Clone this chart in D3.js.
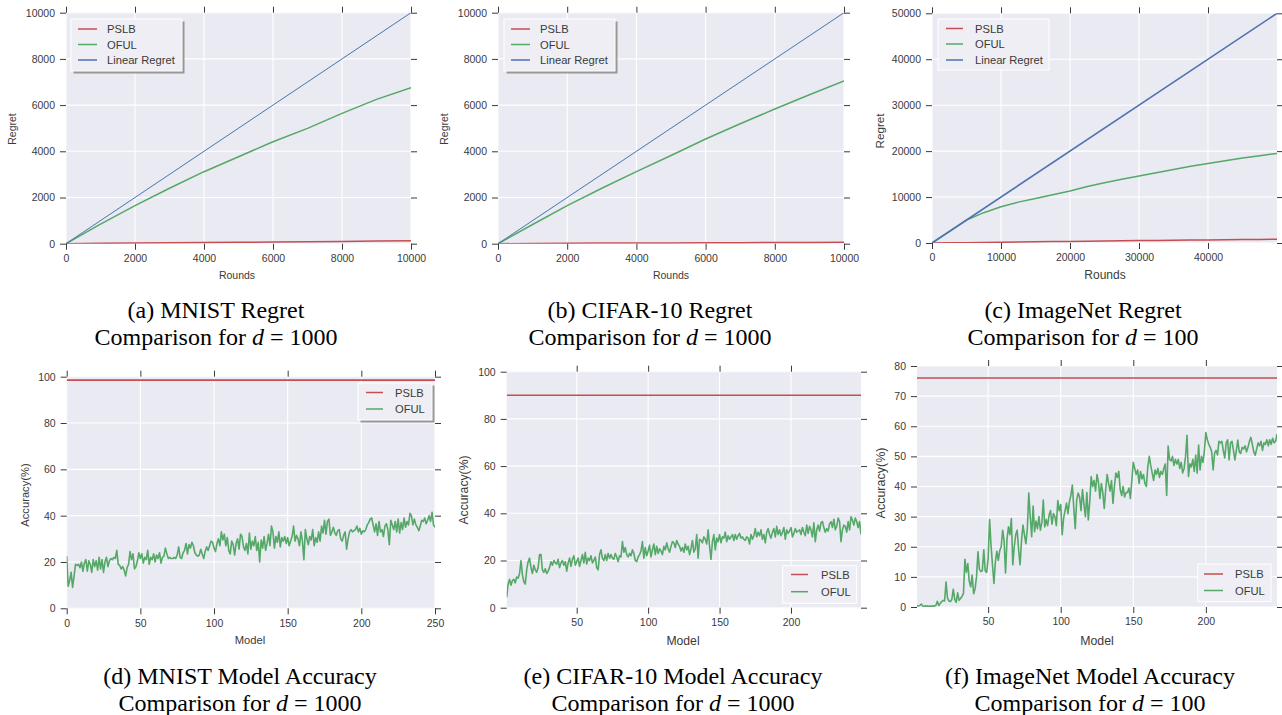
<!DOCTYPE html>
<html>
<head>
<meta charset="utf-8">
<script src="https://cdn.jsdelivr.net/npm/d3@7"></script>
<style>
  body { margin: 0; background: #ffffff; }
  svg { display: block; }
</style>
</head>
<body>
<svg id="fig" width="1282" height="715"></svg>
<script>
// ---- donnees ----

// regret, panneaux (a) et (b)
const roundsAB = [0, 1000, 2000, 3000, 4000, 5000, 6000, 7000, 8000, 9000, 10000];
const pslbRegretA = [0, 15, 30, 40, 50, 60, 70, 85, 100, 115, 130];
const ofulRegretA = [0, 850, 1645, 2400, 3117, 3766, 4416, 4993, 5642, 6248, 6753];
const pslbRegretB = [0, 10, 20, 25, 30, 35, 40, 45, 50, 55, 60];
const ofulRegretB = [0, 830, 1645, 2400, 3117, 3820, 4531, 5190, 5830, 6450, 7042];
const linearRoundsAB = [0, 10000];
const linearRegretAB = [0, 10000];

// regret, panneau (c)
const roundsC = [0, 2500, 5000, 7500, 10000, 12500, 15000, 17500, 20000, 22500, 25000,
  27500, 30000, 32500, 35000, 37500, 40000, 42500, 45000, 47500, 50000];
const pslbRegretC = [0, 40, 80, 120, 160, 205, 250, 300, 350, 390, 430,
  475, 520, 560, 600, 640, 680, 715, 750, 785, 820];
const ofulRegretC = [0, 2500, 5000, 6600, 7900, 8900, 9700, 10500, 11300, 12300, 13100,
  13900, 14600, 15300, 16000, 16700, 17300, 17900, 18500, 19000, 19500];
const linearRoundsC = [0, 50000];
const linearRegretC = [0, 50000];

// precision, panneau (d) : modeles 0..250
const pslbAccD = [98.5, 98.5];
const ofulAccD = [
  22.5, 9.5, 12, 15.5, 9, 14, 19, 18.5, 19, 17.5,
  20, 16, 19.5, 21, 16, 20.5, 19, 15.5, 21, 18,
  20.5, 16.5, 22, 17, 21, 15.5, 20, 22, 18, 20.5,
  21.5, 21, 22, 21.5, 25, 19, 18.5, 17, 18, 16.5,
  14, 17.5, 19, 24.5, 21, 23.5, 17, 18, 20.5, 24,
  21.5, 23.5, 19.5, 22, 21, 25, 19, 22, 21, 23.5,
  20, 23, 21.5, 24, 19.5, 22, 22.5, 26, 23.5, 21.5,
  22, 21.5, 21.5, 22, 21.5, 23, 26.5, 22, 21.5, 24,
  25, 28, 23.5, 27.5, 26, 28.5, 27, 24, 23, 22.5,
  23, 25.5, 23.5, 21.5, 24.5, 26.5, 25, 27, 29, 28.5,
  26, 24.5, 28, 30, 27, 33, 29.5, 32, 27, 30.5,
  25, 23.5, 29, 27.5, 23, 28, 30, 25.5, 32, 31,
  26.5, 25, 28, 23.5, 32.5, 25.5, 29, 27, 31, 25,
  28.5, 20, 29.5, 26, 31, 25, 28, 32, 27, 35.5,
  33, 26, 31, 28.5, 33, 26.5, 30.5, 29, 31, 28,
  30.5, 27, 29, 31, 35.5, 29, 31.5, 30, 27, 33,
  29, 21, 34, 30, 27.5, 31, 29.5, 34, 27, 30.5,
  28.5, 33, 29, 35.5, 32.5, 38, 32, 37.5, 38.5, 31.5,
  33, 35, 32.5, 31.5, 33.5, 34, 30, 29, 31.5, 33,
  25.5, 30, 33, 34, 33, 33.5, 34, 35.5, 33, 34.5,
  32, 33.5, 33, 34, 36, 37, 38.5, 39, 36, 33,
  36.5, 31.5, 37.5, 33, 34, 31, 35.5, 36.5, 34, 27.5,
  38, 36, 34, 37.5, 33, 38.5, 32.5, 37, 34, 39,
  35, 37.5, 36, 41, 40, 36, 38.5, 36, 35, 33.5,
  35.5, 38, 37.5, 39, 36.5, 38, 40, 37.5, 41.5, 36, 35
];

// precision, panneau (e) : modeles 1..249
const pslbAccE = [90, 90];
const ofulAccE = [
  4.5, 10, 12, 9.5, 11.5, 12, 10.5, 13, 12.5, 14.5,
  20, 14, 11, 10, 16, 19.5, 21, 17, 14.5, 18,
  16, 15, 17, 22.5, 22.5, 16, 15, 16.5, 14.5, 15.5,
  17, 19.5, 18, 20, 19, 18.5, 20.5, 17, 19, 20,
  18, 19.5, 15.5, 19, 21, 17.5, 20.5, 22, 18, 19.5,
  21, 17.5, 20, 22.5, 19, 23.5, 18.5, 21, 20, 22,
  19, 20, 21.5, 17, 16, 22.5, 24.5, 21, 20, 22.5,
  20, 23, 21, 22.5, 21, 20.5, 23, 21.5, 19.5, 22,
  21.5, 28, 23.5, 25.5, 22.5, 21.5, 23, 22, 24.5, 23,
  20, 19.5, 21.5, 22.5, 24, 28, 21, 25.5, 22, 24,
  26.5, 21.5, 24.5, 27, 22.5, 26, 23, 25, 24, 22.5,
  26, 24.5, 27.5, 25, 23.5, 26, 28, 27.5, 25.5, 28.5,
  27, 26, 24, 25.5, 23.5, 27, 24.5, 26, 22.5, 25,
  28.5, 23.5, 25, 31, 21, 29, 28.5, 27.5, 30, 29,
  27, 33, 26, 20.5, 28, 31, 24.5, 29.5, 28, 31,
  27.5, 30, 29.5, 32, 28, 30.5, 29, 30, 31, 28.5,
  31, 29, 30.5, 31.5, 29.5, 30, 29, 28.5, 30, 29.5,
  27, 31, 29, 30.5, 33.5, 30, 32, 30.5, 33, 29,
  31, 27.5, 32, 33.5, 31, 29.5, 32, 33.5, 30, 34.5,
  31, 33, 30.5, 32, 34, 29, 33, 31.5, 32.5, 34,
  30, 31.5, 33.5, 32, 32.5, 33, 31, 34, 32, 30.5,
  35, 31.5, 34.5, 33, 30, 36, 28, 33, 35, 32.5,
  36, 36.5, 34, 32, 33.5, 32.5, 35.5, 36.5, 34, 37.5,
  33, 34.5, 38, 36.5, 28, 33, 35, 34.5, 32, 36.5,
  33, 38.5, 37, 35, 38, 36.5, 34, 36.5, 31
];

// precision, panneau (f) : modeles 1..249
const pslbAccF = [76, 76];
const ofulAccF = [
  0.3, 0.4, 0.5, 1, 0.3, 0.2, 0.4, 0.3, 0.2, 0.3,
  0.2, 0.4, 0.3, 0.5, 1.9, 0.5, 1.2, 1.8, 2.2, 2,
  8.3, 3, 2, 1.8, 2.5, 5.9, 2.5, 1.5, 4.7, 2.2,
  2.8, 3.5, 4.5, 15.8, 11.5, 14.4, 8.5, 6.7, 10.6, 4.4,
  6, 10, 18.3, 12.5, 11.8, 12, 19, 12, 11.5, 16,
  29, 20.5, 14, 7.8, 15, 18.5, 15.5, 18.7, 20, 25.5,
  22, 11.3, 22.5, 26.6, 24, 29.4, 14, 20, 24, 25.5,
  19, 14, 22, 27.2, 24, 21, 26, 37.8, 30, 23.3,
  33.5, 25, 28.5, 26, 30, 25.5, 28, 35.5, 26.6, 29,
  27, 30.5, 32, 27.5, 31, 30, 27, 35.3, 32, 34,
  24, 29.5, 32, 34.5, 31, 35, 37, 40.5, 33, 26,
  35.5, 37.8, 36.5, 32, 39, 34, 30, 38, 28.9, 35,
  43.3, 40, 42, 38.5, 44, 41.5, 36, 41, 38, 32.7,
  39, 44, 41, 38.5, 42, 34.4, 40, 44.5, 43, 45,
  39, 37, 40, 36.5, 38, 38, 39.5, 36, 42, 48,
  46, 44, 45.5, 41, 45, 42.5, 44, 41, 40, 46.5,
  50, 47, 44.5, 42, 45.5, 44, 46, 43, 45, 44,
  46, 47.5, 37, 53.4, 49, 48.5, 50, 47, 49, 47.5,
  49, 46, 48, 44.5, 46, 50, 57, 43.3, 47.5, 46.5,
  49, 45, 50.4, 44.4, 53.8, 45.5, 50, 48, 52, 57.9,
  55.5, 54, 53, 51.5, 45.5, 51, 52, 50.5, 55, 54.5,
  55, 52, 49.5, 54.5, 55.5, 48.8, 54.5, 55, 52, 48.8,
  52, 55.4, 51.5, 51, 53, 52.5, 53.5, 51.5, 53, 55,
  56.3, 54, 51.5, 50.4, 52.5, 54.5, 53.5, 55, 52, 54.5,
  54, 55.5, 53.5, 55.5, 54, 56, 54.5, 55, 57.4
];

// graduations
const ticksAB = [0, 2000, 4000, 6000, 8000, 10000];
const regretTicksC = [0, 10000, 20000, 30000, 40000, 50000];
const roundTicksC = [0, 10000, 20000, 30000, 40000];
const modelTicksD = [0, 50, 100, 150, 200, 250];
const modelTicksEF = [50, 100, 150, 200];
const accTicksDE = [0, 20, 40, 60, 80, 100];
const accTicksF = [0, 10, 20, 30, 40, 50, 60, 70, 80];

// legendes et legendes de figure
const regretLabels = ["PSLB", "OFUL", "Linear Regret"];
const accLabels = ["PSLB", "OFUL"];
const captions = [
  ["(a) MNIST Regret", "1000"],
  ["(b) CIFAR-10 Regret", "1000"],
  ["(c) ImageNet Regret", "100"],
  ["(d) MNIST Model Accuracy", "1000"],
  ["(e) CIFAR-10 Model Accuracy", "1000"],
  ["(f) ImageNet Model Accuracy", "100"]
];

// ---- style ----
const colors = { red: "#c44e52", green: "#55a868", blue: "#4c72b0" };
const SANS = '"Liberation Sans", Arial, sans-serif';
const SERIF = '"Liberation Serif", "Times New Roman", serif';
const ink = "#3a3a3a";

const svg = d3.select("#fig");
const idx = (arr, start) => arr.map((_, i) => i + start);

const panels = [
  {
    box: [66, 411, 12.7, 243.7], xDomain: [0, 10000], yDomain: [0, 10000],
    xTicks: ticksAB, yTicks: ticksAB, xLabel: "Rounds", yLabel: "Regret",
    xLabelAt: [237, 275], yLabelAt: [12, 129], xLabelSize: 10.5, yLabelSize: 10.5,
    series: [
      { xs: roundsAB, ys: pslbRegretA, color: colors.red, w: 1.5 },
      { xs: roundsAB, ys: ofulRegretA, color: colors.green, w: 1.5 },
      { xs: linearRoundsAB, ys: linearRegretAB, color: colors.blue, w: 1 }
    ],
    legend: { x: 71, y: 19, w: 111, h: 52, shadow: true, line: [78, 97], text: 107, rows: [29, 44.5, 60], labels: regretLabels, colors: [colors.red, colors.green, colors.blue] }
  },
  {
    box: [498, 844, 12.7, 243.7], xDomain: [0, 10000], yDomain: [0, 10000],
    xTicks: ticksAB, yTicks: ticksAB, xLabel: "Rounds", yLabel: "Regret",
    xLabelAt: [671, 275], yLabelAt: [444, 129], xLabelSize: 10.5, yLabelSize: 10.5,
    series: [
      { xs: roundsAB, ys: pslbRegretB, color: colors.red, w: 1.5 },
      { xs: roundsAB, ys: ofulRegretB, color: colors.green, w: 1.5 },
      { xs: linearRoundsAB, ys: linearRegretAB, color: colors.blue, w: 1 }
    ],
    legend: { x: 504, y: 19, w: 111, h: 52, shadow: true, line: [511, 530], text: 540, rows: [29, 44.5, 60], labels: regretLabels, colors: [colors.red, colors.green, colors.blue] }
  },
  {
    box: [932, 1277, 13.3, 243], xDomain: [0, 50000], yDomain: [0, 50000],
    xTicks: roundTicksC, yTicks: regretTicksC, xLabel: "Rounds", yLabel: "Regret",
    xLabelAt: [1105, 275], yLabelAt: [879, 131], xLabelSize: 12, yLabelSize: 11.7,
    series: [
      { xs: roundsC, ys: pslbRegretC, color: colors.red, w: 1.5 },
      { xs: roundsC, ys: ofulRegretC, color: colors.green, w: 1.5 },
      { xs: linearRoundsC, ys: linearRegretC, color: colors.blue, w: 1.6 }
    ],
    legend: { x: 938, y: 19, w: 111, h: 51, shadow: false, line: [946, 963], text: 975, rows: [28.5, 44, 60], labels: regretLabels, colors: [colors.red, colors.green, colors.blue] }
  },
  {
    box: [66.7, 435, 376.7, 608.3], xDomain: [0, 250], yDomain: [0, 100],
    xTicks: modelTicksD, yTicks: accTicksDE, xLabel: "Model", yLabel: "Accuracy(%)",
    xLabelAt: [250, 640], yLabelAt: [25, 495], xLabelSize: 11.2, yLabelSize: 11.2,
    series: [
      { xs: [0, 250], ys: pslbAccD, color: colors.red, w: 1.6 },
      { xs: idx(ofulAccD, 0), ys: ofulAccD, color: colors.green, w: 1.6 }
    ],
    legend: { x: 358, y: 383, w: 74, h: 37, shadow: true, line: [366, 383], text: 395, rows: [392.5, 409], labels: accLabels, colors: [colors.red, colors.green] }
  },
  {
    box: [506.7, 861, 371.7, 607.7], xDomain: [1, 249], yDomain: [0, 100],
    xTicks: modelTicksEF, yTicks: accTicksDE, xLabel: "Model", yLabel: "Accuracy(%)",
    xLabelAt: [683, 641], yLabelAt: [464, 490], xLabelSize: 12.2, yLabelSize: 12.2,
    series: [
      { xs: [1, 249], ys: pslbAccE, color: colors.red, w: 1.6 },
      { xs: idx(ofulAccE, 1), ys: ofulAccE, color: colors.green, w: 1.6 }
    ],
    legend: { x: 782.7, y: 565.7, w: 74, h: 37.6, shadow: false, line: [791, 808], text: 821, rows: [574.5, 591.7], labels: accLabels, colors: [colors.red, colors.green] }
  },
  {
    box: [917, 1277, 366, 607], xDomain: [1, 249], yDomain: [0, 80],
    xTicks: modelTicksEF, yTicks: accTicksF, xLabel: "Model", yLabel: "Accuracy(%)",
    xLabelAt: [1097, 641], yLabelAt: [881, 483], xLabelSize: 12.3, yLabelSize: 12.5,
    series: [
      { xs: [1, 249], ys: pslbAccF, color: colors.red, w: 1.6 },
      { xs: idx(ofulAccF, 1), ys: ofulAccF, color: colors.green, w: 1.6 }
    ],
    legend: { x: 1197.7, y: 564, w: 73.3, h: 37.7, shadow: false, line: [1204, 1223], text: 1235, rows: [574, 590.5], labels: accLabels, colors: [colors.red, colors.green] }
  }
];

const captionPos = [
  [216, 318, 345], [650, 318, 345], [1083, 318, 345],
  [240, 684, 711], [673, 684, 711], [1090, 684, 711]
];

function drawPanel(p, n) {
  const [left, right, top, bottom] = p.box;
  const x = d3.scaleLinear().domain(p.xDomain).range([left, right]);
  const y = d3.scaleLinear().domain(p.yDomain).range([bottom, top]);
  const g = svg.append("g");

  const clipId = "clip" + n;
  svg.append("clipPath").attr("id", clipId)
    .append("rect").attr("x", left).attr("y", top)
    .attr("width", right - left).attr("height", bottom - top);

  g.append("rect").attr("x", left).attr("y", top)
    .attr("width", right - left).attr("height", bottom - top)
    .attr("fill", "#eaeaf2");

  // grille blanche
  const grid = g.append("g").attr("clip-path", `url(#${clipId})`);
  grid.selectAll(".vg").data(p.xTicks).join("line")
    .attr("x1", d => x(d)).attr("x2", d => x(d))
    .attr("y1", top).attr("y2", bottom)
    .attr("stroke", "#ffffff").attr("stroke-width", 1.1);
  grid.selectAll(".hg").data(p.yTicks).join("line")
    .attr("y1", d => y(d)).attr("y2", d => y(d))
    .attr("x1", left).attr("x2", right)
    .attr("stroke", "#ffffff").attr("stroke-width", 1.1);

  // courbes
  const lines = g.append("g").attr("clip-path", `url(#${clipId})`);
  p.series.forEach(s => {
    const line = d3.line().x((d, i) => x(s.xs[i])).y(d => y(d));
    lines.append("path").datum(s.ys)
      .attr("d", line)
      .attr("fill", "none")
      .attr("stroke", s.color)
      .attr("stroke-width", s.w)
      .attr("stroke-linejoin", "round");
  });

  // axes (graduations vers l'exterieur sur les 4 cotes)
  const fmt = d3.format("d");
  const axes = [
    [d3.axisBottom(x).tickValues(p.xTicks).tickFormat(fmt), `translate(0,${bottom})`],
    [d3.axisTop(x).tickValues(p.xTicks).tickFormat(""), `translate(0,${top})`],
    [d3.axisLeft(y).tickValues(p.yTicks).tickFormat(fmt), `translate(${left},0)`],
    [d3.axisRight(y).tickValues(p.yTicks).tickFormat(""), `translate(${right},0)`]
  ];
  axes.forEach(([ax, tr]) => {
    const a = g.append("g").attr("transform", tr)
      .call(ax.tickSize(6).tickPadding(5));
    a.select(".domain").remove();
    a.selectAll(".tick line").attr("stroke", ink).attr("stroke-width", 1);
    a.selectAll(".tick text")
      .attr("fill", ink)
      .style("font-family", SANS)
      .style("font-size", "10.5px");
  });

  // titres des axes
  g.append("text")
    .attr("x", p.xLabelAt[0]).attr("y", p.xLabelAt[1])
    .attr("text-anchor", "middle").attr("dominant-baseline", "central")
    .attr("fill", ink)
    .style("font-family", SANS).style("font-size", p.xLabelSize + "px")
    .text(p.xLabel);
  g.append("text")
    .attr("transform", `translate(${p.yLabelAt[0]},${p.yLabelAt[1]}) rotate(-90)`)
    .attr("text-anchor", "middle").attr("dominant-baseline", "central")
    .attr("fill", ink)
    .style("font-family", SANS).style("font-size", p.yLabelSize + "px")
    .text(p.yLabel);

  // legende
  const L = p.legend;
  if (L.shadow) {
    g.append("rect").attr("x", L.x + 2.5).attr("y", L.y + 2.5)
      .attr("width", L.w).attr("height", L.h)
      .attr("fill", "#8a8a8a").attr("opacity", 0.85);
  }
  g.append("rect").attr("x", L.x).attr("y", L.y)
    .attr("width", L.w).attr("height", L.h)
    .attr("fill", "#eeeef4").attr("stroke", "#ffffff").attr("stroke-width", 1);
  L.labels.forEach((lab, i) => {
    g.append("line")
      .attr("x1", L.line[0]).attr("x2", L.line[1])
      .attr("y1", L.rows[i]).attr("y2", L.rows[i])
      .attr("stroke", L.colors[i]).attr("stroke-width", 1.5);
    g.append("text")
      .attr("x", L.text).attr("y", L.rows[i])
      .attr("dominant-baseline", "central")
      .attr("fill", ink)
      .style("font-family", SANS).style("font-size", "11.2px")
      .text(lab);
  });
}

panels.forEach(drawPanel);

// legendes sous les figures
captions.forEach(([title, dval], i) => {
  const [cx, y1, y2] = captionPos[i];
  svg.append("text")
    .attr("x", cx).attr("y", y1).attr("text-anchor", "middle")
    .attr("fill", "#000")
    .style("font-family", SERIF).style("font-size", "24px")
    .text(title);
  const t = svg.append("text")
    .attr("x", cx).attr("y", y2).attr("text-anchor", "middle")
    .attr("fill", "#000")
    .style("font-family", SERIF).style("font-size", "24px");
  t.append("tspan").text("Comparison for ");
  t.append("tspan").style("font-style", "italic").text("d");
  t.append("tspan").text(" = " + dval);
});
</script>
</body>
</html>
